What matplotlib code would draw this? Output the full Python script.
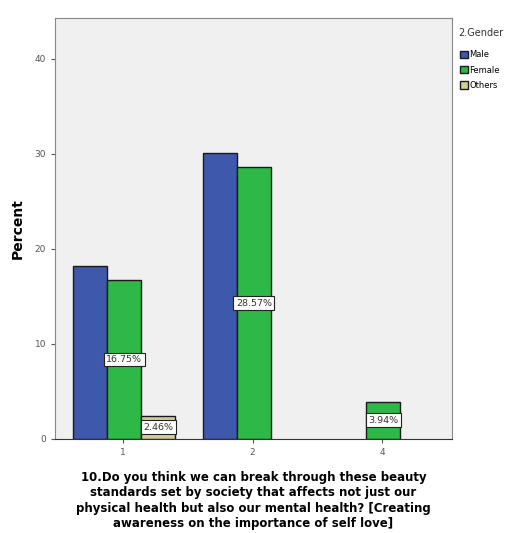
import numpy as np
from matplotlib import pyplot as plt

# answer categories on the x axis
categories = ["1", "2", "4"]
# percent per gender group
male = [18.2, 30.05, 0]
female = [16.75, 28.57, 3.94]
others = [2.46, 0, 0]
# labelled bars (series, category index)
labelled = [("female", 0), ("others", 0), ("female", 1), ("female", 2)]

series = {"male": male, "female": female, "others": others}
colors = {"male": "#3E58AC", "female": "#2EB848", "others": "#D3CE97"}
names = {"male": "Male", "female": "Female", "others": "Others"}

fig = plt.figure(figsize=(5.11, 5.33), dpi=100)
ax = fig.add_axes([55 / 511, 1 - 439 / 533, 397 / 511, 421 / 533])
ax.set_facecolor("#F0F0F0")

x = np.arange(len(categories))
w = 0.263
offsets = {"male": -w, "female": 0, "others": w}
bars = {}
for key in ["male", "female", "others"]:
    vals = series[key]
    bars[key] = ax.bar(x + offsets[key] + 0.01, vals, w, color=colors[key],
                       edgecolor="#1a1a1a", linewidth=1.0, label=names[key])
    for r, v in zip(bars[key], vals):
        if v == 0:
            r.set_visible(False)

for key, i in labelled:
    v = series[key][i]
    ax.text(x[i] + offsets[key] + 0.01, v / 2, "%.2f%%" % v, ha="center", va="center",
            fontsize=6.8, color="#333333",
            bbox=dict(boxstyle="square,pad=0.25", fc="white", ec="#222222", lw=0.8))

ax.set_xlim(-0.525, 2.54)
ax.set_ylim(0, 44.3)
ax.set_yticks([0, 10, 20, 30, 40])
ax.set_xticks(x)
ax.set_xticklabels(categories)
ax.tick_params(axis="both", labelsize=6.5, colors="#555555", length=3)
for s in ax.spines.values():
    s.set_color("#888888")
    s.set_linewidth(0.8)
ax.spines["bottom"].set_color("#333333")

ax.set_ylabel("Percent", fontsize=10, fontweight="bold", labelpad=7)
ax.set_xlabel("10.Do you think we can break through these beauty\n"
              "standards set by society that affects not just our\n"
              "physical health but also our mental health? [Creating\n"
              "awareness on the importance of self love]",
              fontsize=8.5, fontweight="bold", linespacing=1.25, labelpad=10)

fig.text(458 / 511, 1 - 33 / 533, "2.Gender", fontsize=7, color="#333333",
         ha="left", va="center")
leg = ax.legend(loc="upper left", bbox_to_anchor=(1.008, 0.935), frameon=False,
                fontsize=6, handlelength=0.9, handleheight=1.0, handletextpad=0.2,
                labelspacing=0.75, borderaxespad=0.2)

fig.savefig("out.png", dpi=100)
